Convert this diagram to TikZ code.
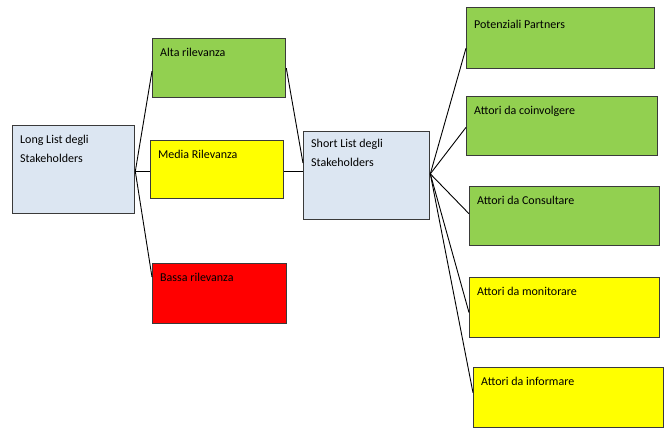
\documentclass[tikz,border=0pt]{standalone}
\usepackage{fontspec}
\setmainfont{Carlito}
\usetikzlibrary{calc}
\definecolor{boxblue}{HTML}{DCE6F2}
\definecolor{boxgreen}{HTML}{92D050}
\definecolor{boxyellow}{HTML}{FFFF00}
\definecolor{boxred}{HTML}{FF0000}
\definecolor{edge}{HTML}{3A3A3A}
\tikzset{
  box/.style={draw=edge, line width=1.3pt, anchor=north west, inner sep=0pt, rectangle},
  lbl/.style={anchor=north west, inner sep=0pt, align=left, font=\fontsize{12}{19}\selectfont},
  conn/.style={draw=black, line width=0.9pt}
}
\newcommand{\boxlabel}[3][10]{\node[lbl] at ($(#2.north west)+(8,#1)$) {#3};}
\begin{document}
\begin{tikzpicture}[x=1pt,y=-1pt]
\useasboundingbox (0,0) rectangle (666,430);
% boxes
\node[box, fill=boxblue,   minimum width=122, minimum height=88] (ll) at (12,125) {};
\node[box, fill=boxgreen,  minimum width=133, minimum height=59] (alta) at (152,38) {};
\node[box, fill=boxyellow, minimum width=133, minimum height=58] (media) at (150,140) {};
\node[box, fill=boxred,    minimum width=134, minimum height=60] (bassa) at (152,263) {};
\node[box, fill=boxblue,   minimum width=126, minimum height=88] (sl) at (303,131) {};
\node[box, fill=boxgreen,  minimum width=188, minimum height=61] (pp) at (466,7) {};
\node[box, fill=boxgreen,  minimum width=191, minimum height=59] (co) at (466,96) {};
\node[box, fill=boxgreen,  minimum width=190, minimum height=59] (cs) at (469,186) {};
\node[box, fill=boxyellow, minimum width=190, minimum height=60] (mo) at (469,277) {};
\node[box, fill=boxyellow, minimum width=190, minimum height=60] (inf) at (473,367) {};
% labels
\boxlabel{ll}{Long List degli\\Stakeholders}
\boxlabel{alta}{Alta rilevanza}
\boxlabel{media}{Media Rilevanza}
\boxlabel{bassa}{Bassa rilevanza}
\boxlabel[8]{sl}{Short List degli\\Stakeholders}
\boxlabel[13]{pp}{Potenziali Partners}
\boxlabel{co}{Attori da coinvolgere}
\boxlabel{cs}{Attori da Consultare}
\boxlabel{mo}{Attori da monitorare}
\boxlabel{inf}{Attori da informare}
% connector end points
\coordinate (llj) at ($(ll.north east)!0.52!(ll.south east)$);
\coordinate (altain) at ($(alta.north west)!0.55!(alta.south west)$);
\coordinate (bassain) at ($(bassa.north west)!0.23!(bassa.south west)$);
\coordinate (slalta) at ($(sl.north west)!0.36!(sl.south west)$);
\coordinate (slj) at ($(sl.north east)!0.48!(sl.south east)$);
\coordinate (ppin) at ($(pp.north west)!0.66!(pp.south west)$);
\coordinate (coin) at ($(co.north west)!0.52!(co.south west)$);
\coordinate (csin) at ($(cs.north west)!0.46!(cs.south west)$);
\coordinate (moin) at ($(mo.north west)!0.58!(mo.south west)$);
\coordinate (infin) at ($(inf.north west)!0.42!(inf.south west)$);
% connectors
\draw[conn] (llj) -- (altain);
\draw[conn] (llj) -- (llj -| media.west);
\draw[conn] (llj) -- (bassain);
\draw[conn] (alta.east) -- (slalta);
\draw[conn] (media.east |- llj) -- (llj -| sl.west);
\draw[conn] (slj) -- (ppin);
\draw[conn] (slj) -- (coin);
\draw[conn] (slj) -- (csin);
\draw[conn] (slj) -- (moin);
\draw[conn] (slj) -- (infin);
\end{tikzpicture}
\end{document}
